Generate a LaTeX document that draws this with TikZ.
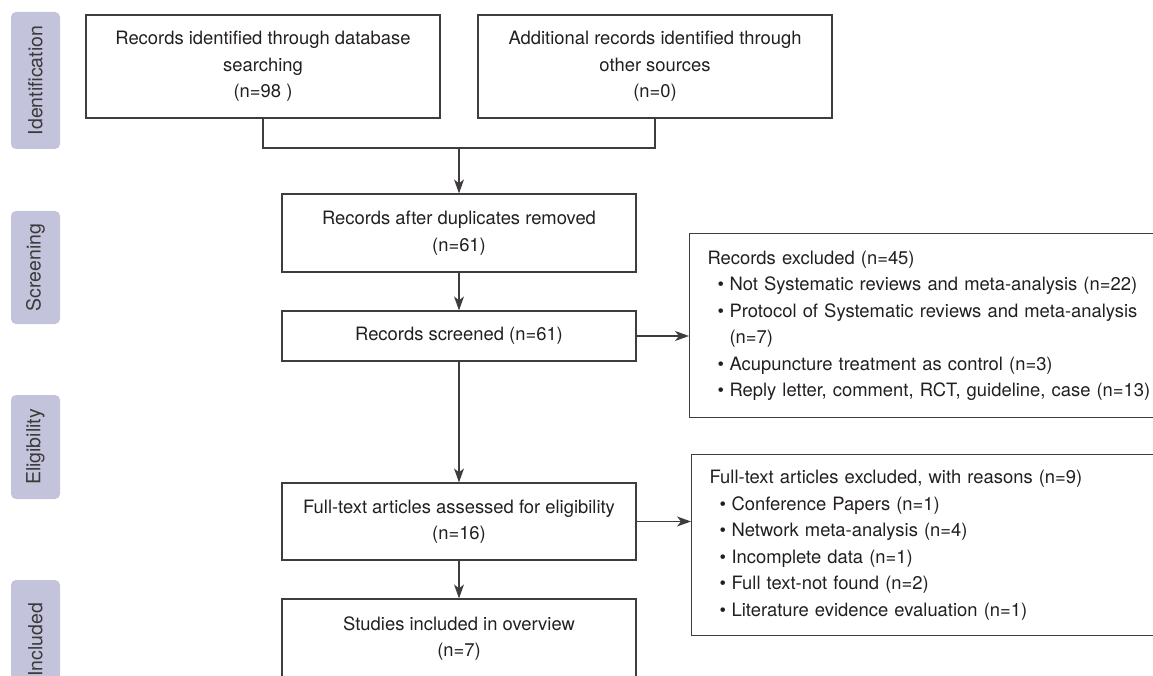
\documentclass[tikz,border=0pt]{standalone}
\usepackage{fontspec}
\setmainfont{TeX Gyre Heros}
\usetikzlibrary{arrows.meta}

\definecolor{boxline}{HTML}{403C3C}
\definecolor{txt}{HTML}{231F20}
\definecolor{lavender}{HTML}{C4C3DC}
\definecolor{phasetxt}{HTML}{3A3A3A}

\newcommand{\bul}{\hspace*{10pt}\makebox[12pt][l]{\textbullet}}

\begin{document}
\begin{tikzpicture}
	[
		x=1pt, y=-1pt,
		font=\fontsize{18.4}{26.5}\selectfont,
		box/.style = {shape=rectangle, draw=boxline, line width=1.2pt, text=txt, align=center, minimum width=354pt, inner sep=0pt},
		sidebox/.style = {box, anchor=north west, align=left, text width=470pt, inner xsep=18pt},
		phase/.style = {shape=rectangle, rounded corners=5pt, fill=lavender, text=phasetxt, rotate=90, minimum height=49pt, inner sep=0pt, font=\fontsize{19.5}{24}\selectfont},
		link/.style = {draw=boxline, line width=1.2pt},
		arrow/.style = {link, -{Stealth[length=14pt, width=10pt, inset=4pt]}}
	]
	
	\useasboundingbox (0,0) rectangle (1153,676);
	\clip (0,0) rectangle (1153,676);
	
	% phases
	\node [phase, minimum width=137pt] (ident) at (35.5, 80.5) {Identification};
	\node [phase, minimum width=113pt] (screen) at (35.5, 267.5) {Screening};
	\node [phase, minimum width=104pt] (elig) at (35.5, 447) {Eligibility};
	\node [phase, minimum width=120pt] (incl) at (35.5, 640) {Included};
	
	% main column
	\node [box, minimum height=103pt] (db) at (263, 66.5) {Records identified through database\\searching\\(n=98 )};
	\node [box, minimum height=103pt] (other) at (655, 66.5) {Additional records identified through\\other sources\\(n=0)};
	\node [box, minimum height=78pt] (dup) at (459, 233) {Records after duplicates removed\\(n=61)};
	\node [box, minimum height=50pt] (screened) at (459, 336) {Records screened (n=61)};
	\node [box, minimum height=77pt] (full) at (459, 521.5) {Full-text articles assessed for eligibility\\(n=16)};
	\node [box, minimum height=79pt] (studies) at (459, 638.5) {Studies included in overview\\(n=7)};
	
	% exclusions
	\node [sidebox, minimum height=184pt] (recex) at (689, 233) {Records excluded (n=45)\\
		\bul Not Systematic reviews and meta-analysis (n=22)\\
		\bul Protocol of Systematic reviews and meta-analysis\\
		\hspace*{22pt}(n=7)\\
		\bul Acupuncture treatment as control (n=3)\\
		\bul Reply letter, comment, RCT, guideline, case (n=13)};
	\node [sidebox, minimum height=181pt] (fullex) at (691, 454) {Full-text articles excluded, with reasons (n=9)\\
		\bul Conference Papers (n=1)\\
		\bul Network meta-analysis (n=4)\\
		\bul Incomplete data (n=1)\\
		\bul Full text-not found (n=2)\\
		\bul Literature evidence evaluation (n=1)};
	
	% connectors
	\coordinate (merge) at (459, 148);
	\draw [link] (db.south) |- (merge) -| (other.south);
	\draw [arrow] (merge) -- (dup.north);
	\draw [arrow] (dup.south) -- (screened.north);
	\draw [arrow] (screened.south) -- (full.north);
	\draw [arrow] (full.south) -- (studies.north);
	\draw [arrow] (screened.east) -- (screened.east -| recex.west);
	\draw [arrow] (full.east) -- (full.east -| fullex.west);
	
\end{tikzpicture}
\end{document}
